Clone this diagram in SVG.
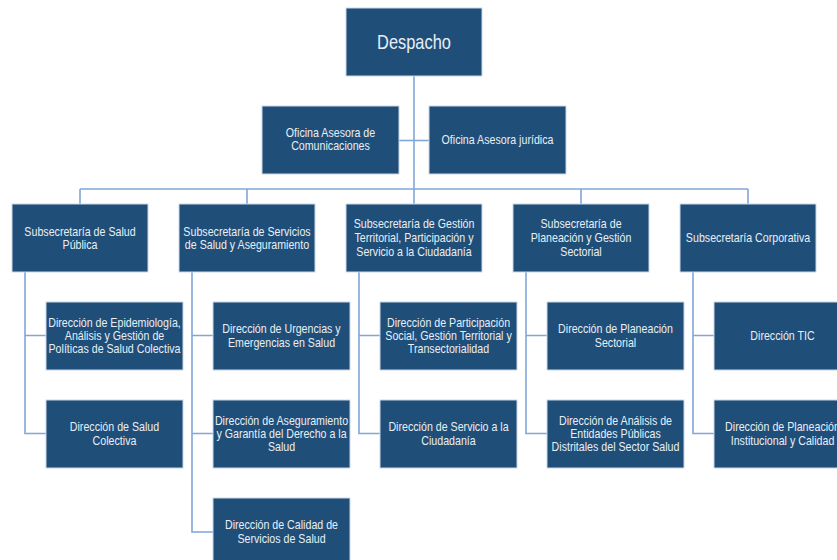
<svg xmlns="http://www.w3.org/2000/svg" width="837" height="560" viewBox="0 0 837 560">
  <style>
    .box { fill: #1F4E79; stroke: #C9D7E8; stroke-width: 1; }
    .t { font-family: "Liberation Sans", Arial, sans-serif; font-size: 13px; fill: #E9EEF4; text-anchor: middle; }
    .big { font-size: 20px; }
    .con { fill: none; stroke: #7FA7D8; stroke-width: 1.6; }
  </style>
  <rect width="837" height="560" fill="#FFFFFF"/>

  <!-- connectors -->
  <g id="connectors" class="con">
    <path d="M414 76 V189"/>
    <path d="M399 140.5 H429"/>
    <path d="M80 189 H748"/>
    <path d="M80 189 V204 M247 189 V204 M414 189 V204 M581 189 V204 M748 189 V204"/>
    <!-- Salud Pública -->
    <path d="M25 272 V433.5 H46 M25 335.5 H46"/>
    <!-- Servicios de Salud -->
    <path d="M192 272 V532 H213 M192 335.5 H213 M192 433.5 H213"/>
    <!-- Gestión Territorial -->
    <path d="M359 272 V433.5 H380 M359 335.5 H380"/>
    <!-- Planeación -->
    <path d="M526 272 V433.5 H547 M526 335.5 H547"/>
    <!-- Corporativa -->
    <path d="M693 272 V433.5 H714 M693 335.5 H714"/>
  </g>

  <!-- top level -->
  <g id="despacho">
    <rect class="box" x="346" y="8" width="136" height="68"/>
    <g transform="translate(414 0) scale(0.82 1)"><text class="t big" x="0" y="49.3">Despacho</text></g>
  </g>
  <g id="of-comunicaciones">
    <rect class="box" x="262" y="106" width="137" height="68"/>
    <g transform="translate(330.5 0) scale(0.82 1)"><text class="t" y="137"><tspan x="0">Oficina Asesora de</tspan><tspan x="0" dy="13.5">Comunicaciones</tspan></text></g>
  </g>
  <g id="of-juridica">
    <rect class="box" x="429" y="106" width="137" height="68"/>
    <g transform="translate(497.5 0) scale(0.82 1)"><text class="t" x="0" y="144">Oficina Asesora jurídica</text></g>
  </g>

  <!-- subsecretarías -->
  <g id="sub-salud-publica">
    <rect class="box" x="12" y="204" width="136" height="68"/>
    <g transform="translate(80 0) scale(0.82 1)"><text class="t" y="235.7"><tspan x="0">Subsecretaría de Salud</tspan><tspan x="0" dy="13.5">Pública</tspan></text></g>
  </g>
  <g id="sub-servicios">
    <rect class="box" x="179" y="204" width="136" height="68"/>
    <g transform="translate(247 0) scale(0.82 1)"><text class="t" y="235.7"><tspan x="0">Subsecretaría de Servicios</tspan><tspan x="0" dy="13.5">de Salud y Aseguramiento</tspan></text></g>
  </g>
  <g id="sub-gestion-territorial">
    <rect class="box" x="346" y="204" width="136" height="68"/>
    <g transform="translate(414 0) scale(0.82 1)"><text class="t" y="228.3"><tspan x="0">Subsecretaría de Gestión</tspan><tspan x="0" dy="13.7">Territorial, Participación y</tspan><tspan x="0" dy="13.7">Servicio a la Ciudadanía</tspan></text></g>
  </g>
  <g id="sub-planeacion">
    <rect class="box" x="513" y="204" width="136" height="68"/>
    <g transform="translate(581 0) scale(0.82 1)"><text class="t" y="228.3"><tspan x="0">Subsecretaría de</tspan><tspan x="0" dy="13.7">Planeación y Gestión</tspan><tspan x="0" dy="13.7">Sectorial</tspan></text></g>
  </g>
  <g id="sub-corporativa">
    <rect class="box" x="680" y="204" width="136" height="68"/>
    <g transform="translate(748 0) scale(0.82 1)"><text class="t" x="0" y="242">Subsecretaría Corporativa</text></g>
  </g>

  <!-- direcciones: Salud Pública -->
  <g id="dir-epidemiologia">
    <rect class="box" x="46" y="302" width="137" height="68"/>
    <g transform="translate(114.5 0) scale(0.82 1)"><text class="t" y="326.7"><tspan x="0">Dirección de Epidemiología,</tspan><tspan x="0" dy="13.4">Análisis y Gestión de</tspan><tspan x="0" dy="13.4">Políticas de Salud Colectiva</tspan></text></g>
  </g>
  <g id="dir-salud-colectiva">
    <rect class="box" x="46" y="400" width="137" height="68"/>
    <g transform="translate(114.5 0) scale(0.82 1)"><text class="t" y="431.2"><tspan x="0">Dirección de Salud</tspan><tspan x="0" dy="13.5">Colectiva</tspan></text></g>
  </g>

  <!-- direcciones: Servicios de Salud -->
  <g id="dir-urgencias">
    <rect class="box" x="213" y="302" width="137" height="68"/>
    <g transform="translate(281.5 0) scale(0.82 1)"><text class="t" y="333.2"><tspan x="0">Dirección de Urgencias y</tspan><tspan x="0" dy="13.5">Emergencias en Salud</tspan></text></g>
  </g>
  <g id="dir-aseguramiento">
    <rect class="box" x="213" y="400" width="137" height="68"/>
    <g transform="translate(281.5 0) scale(0.82 1)"><text class="t" y="424.7"><tspan x="0">Dirección de Aseguramiento</tspan><tspan x="0" dy="13.4">y Garantía del Derecho a la</tspan><tspan x="0" dy="13.4">Salud</tspan></text></g>
  </g>
  <g id="dir-calidad-servicios">
    <rect class="box" x="213" y="498" width="137" height="68"/>
    <g transform="translate(281.5 0) scale(0.82 1)"><text class="t" y="529.2"><tspan x="0">Dirección de Calidad de</tspan><tspan x="0" dy="13.5">Servicios de Salud</tspan></text></g>
  </g>

  <!-- direcciones: Gestión Territorial -->
  <g id="dir-participacion">
    <rect class="box" x="380" y="302" width="137" height="68"/>
    <g transform="translate(448.5 0) scale(0.82 1)"><text class="t" y="326.7"><tspan x="0">Dirección de Participación</tspan><tspan x="0" dy="13.4">Social, Gestión Territorial y</tspan><tspan x="0" dy="13.4">Transectorialidad</tspan></text></g>
  </g>
  <g id="dir-servicio-ciudadania">
    <rect class="box" x="380" y="400" width="137" height="68"/>
    <g transform="translate(448.5 0) scale(0.82 1)"><text class="t" y="431.2"><tspan x="0">Dirección de Servicio a la</tspan><tspan x="0" dy="13.5">Ciudadanía</tspan></text></g>
  </g>

  <!-- direcciones: Planeación -->
  <g id="dir-planeacion-sectorial">
    <rect class="box" x="547" y="302" width="137" height="68"/>
    <g transform="translate(615.5 0) scale(0.82 1)"><text class="t" y="333.2"><tspan x="0">Dirección de Planeación</tspan><tspan x="0" dy="13.5">Sectorial</tspan></text></g>
  </g>
  <g id="dir-analisis-entidades">
    <rect class="box" x="547" y="400" width="137" height="68"/>
    <g transform="translate(615.5 0) scale(0.82 1)"><text class="t" y="424.7"><tspan x="0">Dirección de Análisis de</tspan><tspan x="0" dy="13.4">Entidades Públicas</tspan><tspan x="0" dy="13.4">Distritales del Sector Salud</tspan></text></g>
  </g>

  <!-- direcciones: Corporativa -->
  <g id="dir-tic">
    <rect class="box" x="714" y="302" width="137" height="68"/>
    <g transform="translate(782.5 0) scale(0.82 1)"><text class="t" x="0" y="340">Dirección TIC</text></g>
  </g>
  <g id="dir-planeacion-institucional">
    <rect class="box" x="714" y="400" width="137" height="68"/>
    <g transform="translate(782.5 0) scale(0.82 1)"><text class="t" y="431.2"><tspan x="0">Dirección de Planeación</tspan><tspan x="0" dy="13.5">Institucional y Calidad</tspan></text></g>
  </g>
</svg>
